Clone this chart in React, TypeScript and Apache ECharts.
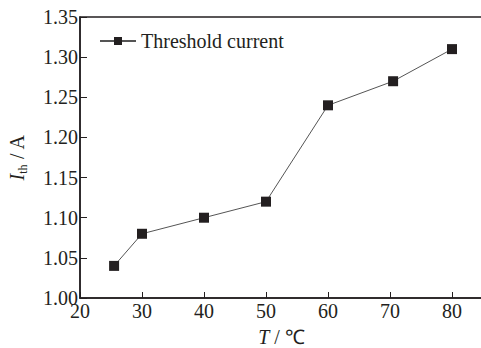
import React, { useEffect, useRef } from "react";
import * as echarts from "echarts";

const temperatures = [25.5, 30, 40, 50, 60, 70.5, 80];
const thresholdCurrent = [1.04, 1.08, 1.1, 1.12, 1.24, 1.27, 1.31];
const seriesName = "Threshold current";

const FONT = "'Liberation Serif', 'Times New Roman', serif";
const INK = "#231f20";

export default function App() {
  const ref = useRef<HTMLDivElement>(null);
  useEffect(() => {
    if (!ref.current) return;
    const chart = echarts.init(ref.current, null, { renderer: "svg" });
    chart.setOption({
      animation: false,
      backgroundColor: "#ffffff",
      textStyle: { fontFamily: FONT, color: INK },
      grid: {
        left: 80,
        top: 17,
        right: -2,
        bottom: 50,
        containLabel: false,
        outerBoundsMode: "none",
        show: true,
        borderColor: INK,
        borderWidth: 1.5,
      },
      legend: {
        left: 94,
        top: 26,
        itemWidth: 36,
        itemHeight: 10,
        itemGap: 6,
        data: [seriesName],
        textStyle: { fontFamily: FONT, fontSize: 20, color: INK },
      },
      xAxis: {
        type: "value",
        min: 20,
        max: 85,
        interval: 10,
        name: "{i|T}{n| / ℃}",
        nameLocation: "middle",
        nameGap: 29,
        nameTextStyle: {
          rich: {
            i: { fontFamily: FONT, fontSize: 20, fontStyle: "italic", color: INK },
            n: { fontFamily: FONT, fontSize: 20, color: INK },
          },
        },
        axisLine: { lineStyle: { color: INK, width: 1.5 } },
        axisTick: { inside: true, length: 6, lineStyle: { color: INK, width: 1 } },
        axisLabel: {
          fontFamily: FONT,
          fontSize: 20,
          color: INK,
          margin: 3,
          showMaxLabel: false,
          formatter: (v: number) => (v % 10 === 0 ? String(v) : ""),
        },
        splitLine: { show: false },
      },
      yAxis: {
        type: "value",
        min: 1.0,
        max: 1.35,
        interval: 0.05,
        name: "{i|I}{sub|th}{n| / A}",
        nameLocation: "middle",
        nameRotate: 90,
        nameGap: 51,
        nameTextStyle: {
          rich: {
            i: { fontFamily: FONT, fontSize: 20, fontStyle: "italic", color: INK, lineHeight: 24 },
            sub: { fontFamily: FONT, fontSize: 12, color: INK, verticalAlign: "bottom", lineHeight: 24 },
            n: { fontFamily: FONT, fontSize: 20, color: INK, lineHeight: 24 },
          },
        },
        axisLine: { show: true, lineStyle: { color: INK, width: 1.5 } },
        axisTick: { show: true, inside: true, length: 7, lineStyle: { color: INK, width: 1 } },
        axisLabel: {
          fontFamily: FONT,
          fontSize: 20,
          color: INK,
          margin: 2,
          formatter: (v: number) => v.toFixed(2),
        },
        splitLine: { show: false },
      },
      series: [
        {
          name: seriesName,
          type: "line",
          data: temperatures.map((t, i) => [t, thresholdCurrent[i]]),
          symbol: "rect",
          symbolSize: 10,
          itemStyle: { color: INK },
          lineStyle: { color: "#555555", width: 1 },
        },
      ],
    });
    return () => chart.dispose();
  }, []);
  return (
    <div
      ref={ref}
      style={{ position: "absolute", left: 0, top: 0, width: 481, height: 348 }}
    />
  );
}
